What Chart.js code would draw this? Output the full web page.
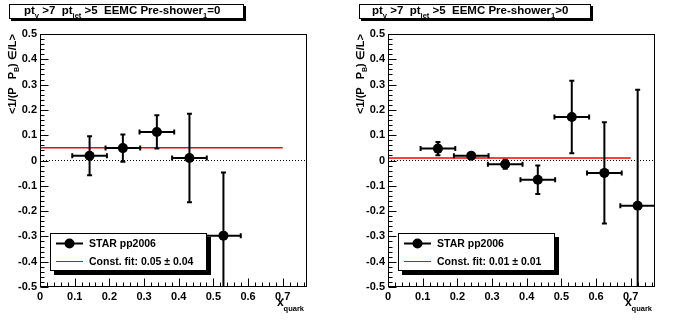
<!DOCTYPE html>
<html><head><meta charset="utf-8">
<script src="https://cdn.jsdelivr.net/npm/chart.js@4/dist/chart.umd.min.js"></script>
<style>
html,body{margin:0;padding:0;background:#fff;}
#wrap{position:relative;width:696px;height:322px;background:#fff;}
canvas{position:absolute;top:0;}
</style></head><body>
<div id="wrap">
<canvas id="c1" width="348" height="322" style="left:0px"></canvas>
<canvas id="c2" width="348" height="322" style="left:348px"></canvas>
</div>
<script>
// ---- data ----
const xTickValues = [0, 0.1, 0.2, 0.3, 0.4, 0.5, 0.6, 0.7];
const yTickValues = [-0.5, -0.4, -0.3, -0.2, -0.1, 0, 0.1, 0.2, 0.3, 0.4, 0.5];
const xRange = [0, 0.77];
const yRange = [-0.5, 0.5];

const leftTitle = ['pt', 'γ', ' >7  pt', 'jet', ' >5  EEMC Pre-shower', '1', '=0'];
const leftX    = [0.143, 0.239, 0.337, 0.431, 0.529];
const leftY    = [0.019, 0.049, 0.113, 0.010, -0.297];
const leftErrX = [0.05, 0.05, 0.05, 0.05, 0.05];
const leftErrY = [0.077, 0.054, 0.066, 0.175, 0.250];
const leftFit  = [0.05, 0.04];

const rightTitle = ['pt', 'γ', ' >7  pt', 'jet', ' >5  EEMC Pre-shower', '1', '>0'];
const rightX    = [0.144, 0.240, 0.338, 0.432, 0.530, 0.624, 0.720];
const rightY    = [0.047, 0.019, -0.015, -0.076, 0.172, -0.049, -0.179];
const rightErrX = [0.05, 0.05, 0.05, 0.05, 0.05, 0.05, 0.05];
const rightErrY = [0.026, 0.008, 0.018, 0.056, 0.143, 0.200, 0.459];
const rightFit  = [0.01, 0.01];

const fitRange = [0, 0.7];
const seriesLabel = 'STAR pp2006';
const fitLabel = 'Const. fit: ';

// ---- drawing helpers ----
const FONT = '"Liberation Sans", Arial, Helvetica, sans-serif';
function drawRich(ctx, parts, x, y, size, subSize, subDrop, measureOnly) {
  let cx = x;
  parts.forEach((t, i) => {
    const sub = i % 2 === 1;
    ctx.font = 'bold ' + (sub ? subSize : size) + 'px ' + FONT;
    if (!measureOnly) ctx.fillText(t, cx, sub ? y + subDrop : y);
    cx += ctx.measureText(t).width;
  });
  return cx - x;
}

function decorPlugin(cfg) {
  return {
    id: 'rootDecor',
    afterDatasetsDraw(chart) {
      const ctx = chart.ctx, a = chart.chartArea;
      const xs = chart.scales.x, ys = chart.scales.y;
      // error bars
      ctx.save();
      ctx.beginPath(); ctx.rect(a.left, a.top, a.right - a.left, a.bottom - a.top); ctx.clip();
      ctx.strokeStyle = '#000'; ctx.lineWidth = 2; ctx.lineCap = 'butt';
      cfg.x.forEach((xv, i) => {
        const px = xs.getPixelForValue(xv), py = ys.getPixelForValue(cfg.y[i]);
        const x1 = xs.getPixelForValue(xv - cfg.ex[i]), x2 = xs.getPixelForValue(xv + cfg.ex[i]);
        const y1 = ys.getPixelForValue(cfg.y[i] + cfg.ey[i]), y2 = ys.getPixelForValue(cfg.y[i] - cfg.ey[i]);
        ctx.beginPath();
        ctx.moveTo(x1, py); ctx.lineTo(x2, py);
        ctx.moveTo(px, y1); ctx.lineTo(px, y2);
        ctx.moveTo(x1, py - 2.5); ctx.lineTo(x1, py + 2.5);
        ctx.moveTo(x2, py - 2.5); ctx.lineTo(x2, py + 2.5);
        ctx.moveTo(px - 2.5, y1); ctx.lineTo(px + 2.5, y1);
        ctx.moveTo(px - 2.5, y2); ctx.lineTo(px + 2.5, y2);
        ctx.stroke();
      });
      ctx.restore();
      // frame and ticks
      ctx.save();
      ctx.strokeStyle = '#000'; ctx.lineWidth = 1;
      const L = Math.round(a.left) + 0.5, R = Math.round(a.right) - 0.5;
      const T = Math.round(a.top) + 0.5, B = Math.round(a.bottom) - 0.5;
      ctx.strokeRect(L, T, R - L, B - T);
      ctx.beginPath();
      for (let k = 0; k <= 50; k++) {
        const v = yRange[0] + k * 0.02;
        const py = Math.round(ys.getPixelForValue(v)) + 0.5;
        const len = (k % 5 === 0) ? 8 : 4;
        ctx.moveTo(L, py); ctx.lineTo(L + len, py);
      }
      for (let k = 0; k * 0.02 <= xRange[1] + 1e-9; k++) {
        const v = k * 0.02;
        const px = Math.round(xs.getPixelForValue(v)) + 0.5;
        const len = (k % 5 === 0) ? 8 : 4;
        ctx.moveTo(px, B); ctx.lineTo(px, B - len);
      }
      ctx.stroke();
      ctx.restore();
    },
    afterDraw(chart) {
      const ctx = chart.ctx, a = chart.chartArea;
      ctx.save();
      ctx.fillStyle = '#000'; ctx.textBaseline = 'alphabetic'; ctx.textAlign = 'left';
      // title box
      ctx.fillStyle = '#000';
      ctx.fillRect(cfg.tb[0] + 2, cfg.tb[1] + 2, cfg.tb[2], cfg.tb[3]);
      ctx.fillStyle = '#fff';
      ctx.fillRect(cfg.tb[0], cfg.tb[1], cfg.tb[2], cfg.tb[3]);
      ctx.strokeStyle = '#000'; ctx.lineWidth = 1;
      ctx.strokeRect(cfg.tb[0] + 0.5, cfg.tb[1] + 0.5, cfg.tb[2] - 1, cfg.tb[3] - 1);
      ctx.fillStyle = '#000';
      drawRich(ctx, cfg.title, 24, 14, 11.5, 7.5, 4);
      // y-axis title (rotated)
      const yt = ['<1/(P', ' ', '  P', 'B', ') ∈/L>'];
      ctx.save();
      ctx.translate(16, a.top);
      ctx.rotate(-Math.PI / 2);
      const w = drawRich(ctx, yt, 0, 0, 11, 7, 3, true);
      drawRich(ctx, yt, -w, 0, 11, 7, 3);
      ctx.restore();
      // x-axis title
      const xt = ['x', 'quark'];
      const wx = drawRich(ctx, xt, 0, 0, 12, 7.5, 5, true);
      drawRich(ctx, xt, a.right - 3 - wx, 306, 12, 7.5, 5);
      // legend
      const lx = 50, ly = 233, lw = 157, lh = 38;
      ctx.fillStyle = '#000';
      ctx.fillRect(lx + 4, ly + 4, lw, lh);
      ctx.fillStyle = '#fff';
      ctx.fillRect(lx, ly, lw, lh);
      ctx.strokeRect(lx + 0.5, ly + 0.5, lw - 1, lh - 1);
      ctx.strokeStyle = '#000'; ctx.lineWidth = 2;
      ctx.beginPath(); ctx.moveTo(56, 243.5); ctx.lineTo(83, 243.5); ctx.stroke();
      ctx.fillStyle = '#000';
      ctx.beginPath(); ctx.arc(69.5, 243.5, 5, 0, Math.PI * 2); ctx.fill();
      ctx.strokeStyle = '#ff0000'; ctx.lineWidth = 1;
      ctx.beginPath(); ctx.moveTo(56, 261.5); ctx.lineTo(83, 261.5); ctx.stroke();
      ctx.fillStyle = '#000';
      ctx.font = 'bold 10.5px ' + FONT;
      ctx.textBaseline = 'middle';
      ctx.fillText(seriesLabel, 89, 244);
      ctx.fillText(fitLabel + cfg.fit[0].toFixed(2) + ' ± ' + cfg.fit[1].toFixed(2), 89, 262);
      ctx.restore();
    }
  };
}

function makeChart(id, cfg) {
  const pts = cfg.x.map((v, i) => ({ x: v, y: cfg.y[i] }));
  new Chart(document.getElementById(id), {
    type: 'scatter',
    data: {
      datasets: [
        { type: 'line', data: [{ x: xRange[0], y: 0 }, { x: xRange[1], y: 0 }], borderColor: '#000', borderWidth: 1,
          borderDash: [1, 2], pointRadius: 0, order: 3 },
        { type: 'line', data: [{ x: fitRange[0], y: cfg.fit[0] }, { x: fitRange[1], y: cfg.fit[0] }], borderColor: '#ff0000',
          borderWidth: 1.5, pointRadius: 0, order: 2 },
        { data: pts, pointRadius: 5, pointBackgroundColor: '#000', pointBorderColor: '#000', pointBorderWidth: 0,
          showLine: false, order: 1 }
      ]
    },
    options: {
      responsive: false, animation: false, devicePixelRatio: 1, events: [],
      layout: { padding: { top: 34, right: 41, left: 0, bottom: 0 } },
      plugins: { legend: { display: false }, tooltip: { enabled: false } },
      scales: {
        x: {
          type: 'linear', min: xRange[0], max: xRange[1],
          grid: { display: false, drawTicks: false }, border: { display: false },
          afterBuildTicks: s => { s.ticks = xTickValues.map(v => ({ value: v })); },
          afterFit: s => { s.height = 35; },
          ticks: { padding: 3, maxRotation: 0, autoSkip: false, color: '#000',
            font: { family: FONT, size: 11, weight: 'bold' },
            callback: v => (Math.abs(v) < 1e-9 ? '0' : String(+v.toFixed(1))) }
        },
        y: {
          type: 'linear', min: yRange[0], max: yRange[1],
          grid: { display: false, drawTicks: false }, border: { display: false },
          afterBuildTicks: s => { s.ticks = yTickValues.map(v => ({ value: v })); },
          afterFit: s => { s.width = 40; },
          ticks: { padding: 3, autoSkip: false, color: '#000',
            font: { family: FONT, size: 11, weight: 'bold' },
            callback: v => (Math.abs(v) < 1e-9 ? '0' : String(+v.toFixed(1))) }
        }
      }
    },
    plugins: [decorPlugin(cfg)]
  });
}

makeChart('c1', { x: leftX, y: leftY, ex: leftErrX, ey: leftErrY, fit: leftFit, title: leftTitle, tb: [9, 4, 235, 15] });
makeChart('c2', { x: rightX, y: rightY, ex: rightErrX, ey: rightErrY, fit: rightFit, title: rightTitle, tb: [11, 4, 232, 15] });
</script>
</body></html>
